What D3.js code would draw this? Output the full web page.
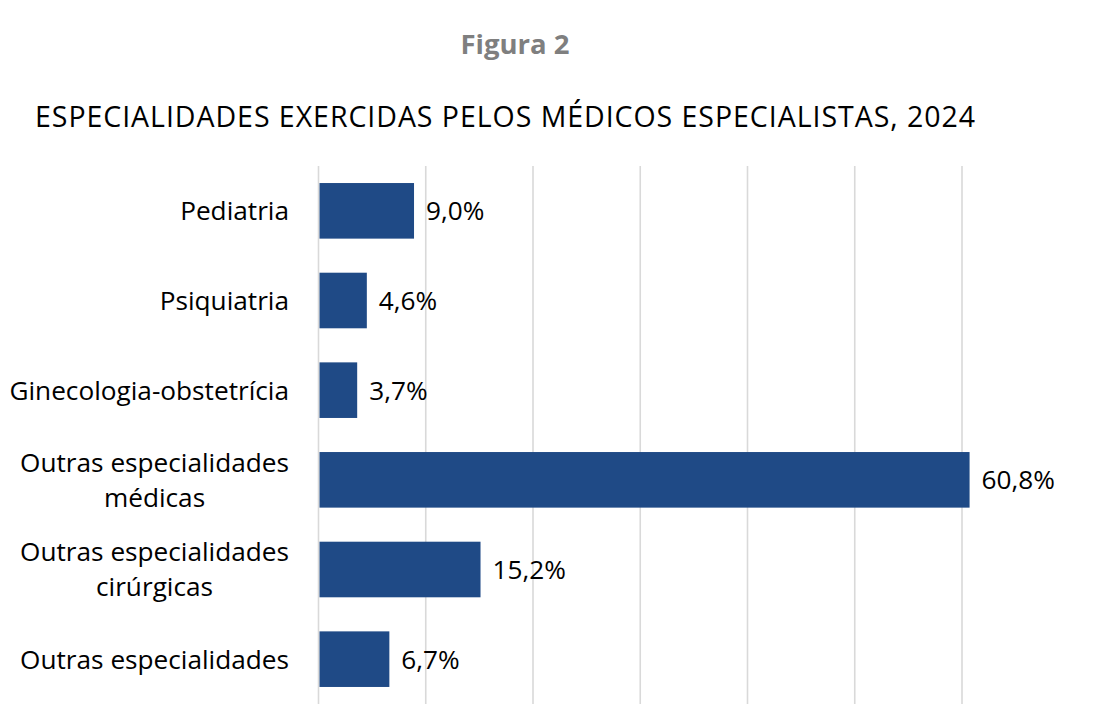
<!DOCTYPE html>
<html>
<head>
<meta charset="utf-8">
<script src="https://cdn.jsdelivr.net/npm/d3@7"></script>
<style>
  body { margin: 0; background: #fff; }
  text { font-family: "Open Sans", Lato, sans-serif; }
</style>
</head>
<body>
<svg id="chart" width="1117" height="727"></svg>
<script>
// Chart data
const categories = [
    ["Pediatria"],
    ["Psiquiatria"],
    ["Ginecologia-obstetrícia"],
    ["Outras especialidades", "médicas"],
    ["Outras especialidades", "cirúrgicas"],
    ["Outras especialidades"]
];
const values = [9.0, 4.6, 3.7, 60.8, 15.2, 6.7];
const tickValues = [0, 10, 20, 30, 40, 50, 60];

const figLabel = "Figura 2";
const title = "ESPECIALIDADES EXERCIDAS PELOS MÉDICOS ESPECIALISTAS, 2024";

const svg = d3.select('#chart');
const fontSize = 26.2;

const data = categories.map((c, i) => ({id: i, lines: c, value: values[i]}));

const x = d3.scaleLinear()
    .domain([0, 60])
    .range([318.5, 962]);

const y = d3.scaleBand()
    .domain(data.map(d => d.id))
    .range([166, 704])
    .paddingInner(0.38)
    .paddingOuter(0.19);

const fmt = v => d3.format(".1f")(v).replace(".", ",") + "%";

// gridlines
svg.append('g')
    .selectAll('line')
    .data(tickValues)
    .enter().append('line')
        .attr('x1', d => x(d)).attr('x2', d => x(d))
        .attr('y1', y.range()[0]).attr('y2', y.range()[1])
        .attr('stroke', '#d9d9d9')
        .attr('stroke-width', 1.6);

// bars
svg.append('g')
    .selectAll('rect')
    .data(data)
    .enter().append('rect')
        .attr('x', x(0) + 1)
        .attr('y', d => y(d.id))
        .attr('width', d => x(d.value) - x(0) - 2)
        .attr('height', y.bandwidth())
        .attr('fill', '#1f4a86');

// value labels
svg.append('g')
    .selectAll('text')
    .data(data)
    .enter().append('text')
        .attr('x', d => x(d.value) + 11)
        .attr('y', d => y(d.id) + y.bandwidth() / 2 + fontSize * 0.36)
        .attr('font-size', fontSize)
        .attr('fill', '#000')
        .text(d => fmt(d.value));

// category labels: right aligned block, lines centred inside it
const labelRight = 289;
const lineGap = 35;
const catG = svg.append('g');
data.forEach(d => {
    const t = catG.append('text')
        .attr('font-size', fontSize)
        .attr('fill', '#000');
    const cy = y(d.id) + y.bandwidth() / 2;
    const y0 = cy - (d.lines.length - 1) * lineGap / 2 + fontSize * 0.36;
    d.lines.forEach((ln, i) => {
        t.append('tspan').attr('y', y0 + i * lineGap).text(ln);
    });
    if (d.lines.length === 1) {
        t.attr('text-anchor', 'end').selectAll('tspan').attr('x', labelRight);
    } else {
        let w = 0;
        t.selectAll('tspan').each(function() { w = Math.max(w, this.getComputedTextLength()); });
        t.attr('text-anchor', 'middle').selectAll('tspan').attr('x', labelRight - w / 2);
    }
});

// titles
svg.append('text')
    .attr('x', 515).attr('y', 54)
    .attr('text-anchor', 'middle')
    .attr('font-size', 27.5)
    .attr('font-weight', 'bold')
    .attr('fill', '#7f7f7f')
    .text(figLabel);

svg.append('text')
    .attr('x', 505).attr('y', 127)
    .attr('text-anchor', 'middle')
    .attr('font-size', 28.5)
    .attr('textLength', 940)
    .attr('lengthAdjust', 'spacing')
    .attr('fill', '#000')
    .text(title);
</script>
</body>
</html>
